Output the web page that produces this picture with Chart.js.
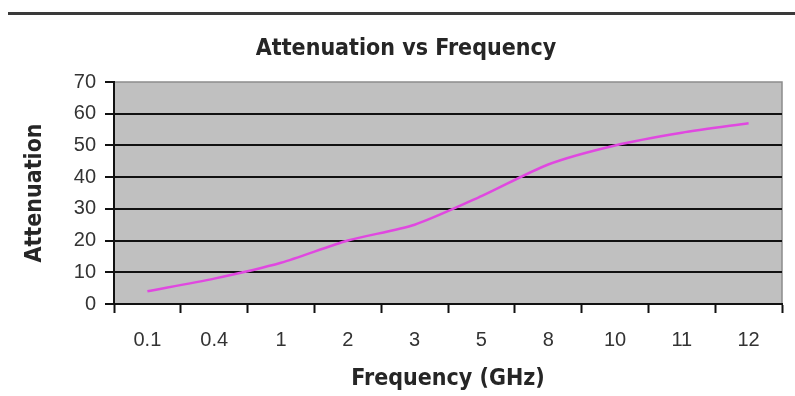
<!DOCTYPE html>
<html>
<head>
<meta charset="utf-8">
<script src="https://cdn.jsdelivr.net/npm/chart.js@4/dist/chart.umd.min.js"></script>
<style>
  html, body { margin: 0; padding: 0; background: #ffffff; }
  #wrap { position: relative; width: 795px; height: 396px; }
  #rule { position: absolute; left: 8px; right: 0; top: 12px; height: 3px; background: #3a3a3a; }
  canvas { position: absolute; left: 0; top: 0; }
</style>
</head>
<body>
<div id="wrap">
  <div id="rule"></div>
  <canvas id="chart" width="795" height="396"></canvas>
</div>
<script>
// Frequency categories (GHz) and measured attenuation
const frequencies = ['0.1', '0.4', '1', '2', '3', '5', '8', '10', '11', '12'];
const attenuation = [4, 8, 13, 20, 25, 34, 44, 50, 54, 57];
const yMin = 0;
const yMax = 70;
const yStep = 10;

const chartTitle = 'Attenuation vs Frequency';
const xTitle = 'Frequency (GHz)';
const yTitle = 'Attenuation';

const TICK_FONT = "'Liberation Sans', Arial, sans-serif";
const TITLE_FONT = "'DejaVu Sans Condensed', 'DejaVu Sans', sans-serif";

// Grey plot area with a thin frame on the top and right sides
const plotArea = {
  id: 'plotArea',
  beforeDraw(chart) {
    const { ctx, chartArea: a } = chart;
    ctx.save();
    ctx.fillStyle = '#c0c0c0';
    ctx.fillRect(a.left, a.top, a.right - a.left, a.bottom - a.top);
    ctx.strokeStyle = '#8c8c8c';
    ctx.lineWidth = 1.5;
    ctx.beginPath();
    ctx.moveTo(a.left, a.top);
    ctx.lineTo(a.right, a.top);
    ctx.lineTo(a.right, a.bottom);
    ctx.stroke();
    ctx.restore();
  }
};

// Chart heading, placed slightly right of the canvas centre
const heading = {
  id: 'heading',
  afterDraw(chart) {
    const { ctx } = chart;
    ctx.save();
    ctx.font = "bold 23px " + TITLE_FONT;
    ctx.fillStyle = '#262626';
    ctx.textAlign = 'center';
    ctx.textBaseline = 'alphabetic';
    ctx.fillText(chartTitle, 406, 55);
    ctx.restore();
  }
};

new Chart(document.getElementById('chart'), {
  type: 'line',
  data: {
    labels: frequencies,
    datasets: [{
      data: attenuation,
      borderColor: '#e048e0',
      borderWidth: 2.5,
      pointRadius: 0,
      tension: 0.25,
      fill: false
    }]
  },
  plugins: [plotArea, heading],
  options: {
    responsive: false,
    animation: false,
    layout: { padding: { top: 82, right: 13, bottom: 0, left: 0 } },
    plugins: {
      legend: { display: false },
      title: { display: false },
      tooltip: { enabled: false }
    },
    scales: {
      x: {
        type: 'category',
        offset: true,
        afterFit(scale) { scale.height = 92; },
        grid: {
          offset: true,
          drawOnChartArea: false,
          drawTicks: true,
          tickLength: 9,
          tickWidth: 2,
          tickColor: '#111111'
        },
        border: { display: true, color: '#111111', width: 2 },
        ticks: {
          color: '#333333',
          padding: 15,
          maxRotation: 0,
          autoSkip: false,
          font: { family: TICK_FONT, size: 20 }
        },
        title: {
          display: true,
          text: xTitle,
          color: '#262626',
          font: { family: TITLE_FONT, size: 23, weight: 'bold' },
          padding: { top: 0, bottom: 3 }
        }
      },
      y: {
        min: yMin,
        max: yMax,
        afterFit(scale) { scale.width = 114; },
        ticks: {
          stepSize: yStep,
          color: '#333333',
          padding: 9,
          font: { family: TICK_FONT, size: 20 }
        },
        grid: {
          drawTicks: true,
          tickLength: 9,
          tickWidth: 2,
          tickColor: '#111111',
          lineWidth: 2,
          color: (c) => (c.tick && c.tick.value > yMin && c.tick.value < yMax) ? '#111111' : 'rgba(0,0,0,0)'
        },
        border: { display: true, color: '#111111', width: 2 },
        title: {
          display: true,
          text: yTitle,
          color: '#262626',
          font: { family: TITLE_FONT, size: 23, weight: 'bold' },
          padding: { top: 21, bottom: 0 }
        }
      }
    }
  }
});
</script>
</body>
</html>
